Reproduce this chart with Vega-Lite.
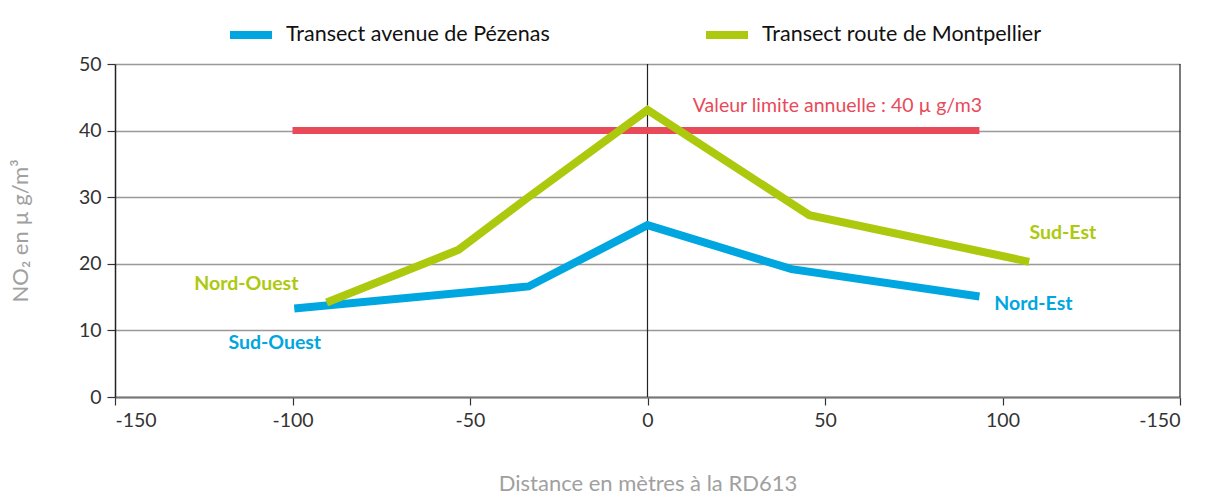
{
  "$schema": "https://vega.github.io/schema/vega-lite/v6.json",
  "autosize": "none",
  "width": 1065,
  "height": 333,
  "padding": {"left": 115, "top": 64, "right": 27, "bottom": 99},
  "background": "white",
  "config": {
    "font": "Lato",
    "view": {"stroke": null}
  },
  "datasets": {
    "series": [
      {"serie": "Transect avenue de Pézenas", "distance": -99.5, "no2": 13.3},
      {"serie": "Transect avenue de Pézenas", "distance": -33.5, "no2": 16.6},
      {"serie": "Transect avenue de Pézenas", "distance": 0, "no2": 25.8},
      {"serie": "Transect avenue de Pézenas", "distance": 40.6, "no2": 19.2},
      {"serie": "Transect avenue de Pézenas", "distance": 93.5, "no2": 15.1},
      {"serie": "Transect route de Montpellier", "distance": -90.4, "no2": 14.2},
      {"serie": "Transect route de Montpellier", "distance": -53.2, "no2": 22.1},
      {"serie": "Transect route de Montpellier", "distance": -33.8, "no2": 29.9},
      {"serie": "Transect route de Montpellier", "distance": 0, "no2": 43.1},
      {"serie": "Transect route de Montpellier", "distance": 45.6, "no2": 27.3},
      {"serie": "Transect route de Montpellier", "distance": 107.5, "no2": 20.3}
    ],
    "limit": [
      {"distance": -100, "no2": 40},
      {"distance": 93.5, "no2": 40}
    ],
    "labels": [
      {"label": "Nord-Ouest", "distance": -113, "no2": 17, "serie": "Transect route de Montpellier"},
      {"label": "Sud-Ouest", "distance": -105, "no2": 8.1, "serie": "Transect avenue de Pézenas"},
      {"label": "Sud-Est", "distance": 117, "no2": 24.6, "serie": "Transect route de Montpellier"},
      {"label": "Nord-Est", "distance": 108.7, "no2": 14, "serie": "Transect avenue de Pézenas"}
    ],
    "limitLabel": [
      {"label": "Valeur limite annuelle : 40 µ g/m3", "distance": 53.5, "no2": 43.7}
    ],
    "vrules": [
      {"distance": 0},
      {"distance": 150}
    ]
  },
  "layer": [
    {
      "data": {"name": "vrules"},
      "mark": {"type": "rule", "color": "#222", "strokeWidth": 1.2},
      "encoding": {
        "x": {"field": "distance", "type": "quantitative", "scale": {"domain": [-150, 150], "nice": false}}
      }
    },
    {
      "data": {"name": "limit"},
      "mark": {"type": "line", "color": "#e84a5a", "strokeWidth": 7},
      "encoding": {
        "x": {"field": "distance", "type": "quantitative"},
        "y": {"field": "no2", "type": "quantitative"}
      }
    },
    {
      "data": {"name": "series"},
      "mark": {"type": "line", "strokeWidth": 8, "strokeJoin": "miter"},
      "encoding": {
        "x": {
          "field": "distance", "type": "quantitative",
          "scale": {"domain": [-150, 150], "nice": false},
          "axis": {
            "values": [-150, -100, -50, 0, 50, 100, 150],
            "labelExpr": "datum.value == 150 ? '-150' : toString(datum.value)",
            "title": "Distance en mètres à la RD613",
            "titleColor": "#a0a0a0",
            "titleFontSize": 22,
            "titleFontWeight": "normal",
            "titlePadding": 44,
            "labelFontSize": 19.5,
            "labelColor": "#333",
            "labelPadding": 6,
            "tickSize": 8,
            "tickColor": "#333",
            "tickWidth": 1.2,
            "domainColor": "#777",
            "domainWidth": 2,
            "grid": false
          }
        },
        "y": {
          "field": "no2", "type": "quantitative",
          "scale": {"domain": [0, 50], "nice": false},
          "axis": {
            "values": [0, 10, 20, 30, 40, 50],
            "title": "NO₂ en µ g/m³",
            "titleColor": "#a0a0a0",
            "titleFontSize": 22,
            "titleFontWeight": "normal",
            "titlePadding": 46,
            "labelFontSize": 19.5,
            "labelColor": "#333",
            "labelPadding": 6,
            "tickSize": 8,
            "tickColor": "#333",
            "tickWidth": 1.2,
            "domainColor": "#222",
            "domainWidth": 1.5,
            "grid": true,
            "gridColor": "#999",
            "gridWidth": 1.5
          }
        },
        "color": {
          "field": "serie", "type": "nominal",
          "scale": {
            "domain": ["Transect avenue de Pézenas", "Transect route de Montpellier"],
            "range": ["#00a6df", "#adc90d"]
          },
          "legend": {
            "title": null,
            "orient": "none",
            "direction": "horizontal",
            "legendX": 111,
            "legendY": -54,
            "symbolType": "stroke",
            "symbolStrokeWidth": 8,
            "symbolSize": 1764,
            "labelFontSize": 21.5,
            "labelColor": "#111",
            "labelOffset": 10,
            "columnPadding": 140,
            "labelLimit": 500
          }
        }
      }
    },
    {
      "data": {"name": "labels"},
      "mark": {"type": "text", "fontSize": 19.5, "fontWeight": "bold", "align": "center", "baseline": "middle"},
      "encoding": {
        "x": {"field": "distance", "type": "quantitative"},
        "y": {"field": "no2", "type": "quantitative"},
        "text": {"field": "label"},
        "color": {"field": "serie", "type": "nominal", "legend": null}
      }
    },
    {
      "data": {"name": "limitLabel"},
      "mark": {"type": "text", "fontSize": 19.5, "color": "#e84a5a", "align": "center", "baseline": "middle"},
      "encoding": {
        "x": {"field": "distance", "type": "quantitative"},
        "y": {"field": "no2", "type": "quantitative"},
        "text": {"field": "label"}
      }
    }
  ]
}
